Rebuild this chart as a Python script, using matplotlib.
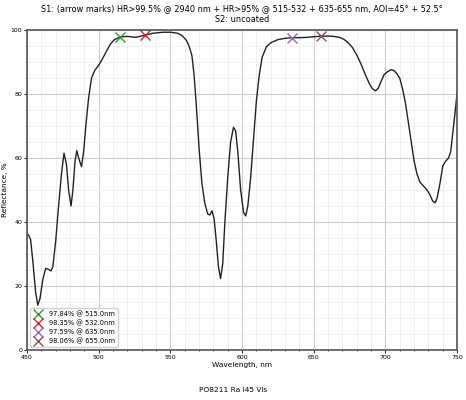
import matplotlib
matplotlib.use("Agg")
import matplotlib.pyplot as plt
from matplotlib.ticker import MultipleLocator

wavelength = [450, 451, 452.5, 454, 456, 457.5, 459, 461, 463, 465, 466.7, 468, 470, 472, 474, 475.8,
              477.5, 479, 480.7, 482, 483.5, 484.7, 486, 488, 489.5, 491, 493, 495, 497.4, 500, 502,
              505, 508, 511, 515, 520, 526, 532, 538, 545, 550, 555, 558, 561, 563, 565, 566.5, 568,
              570, 572, 574, 576, 577.5, 579, 580.5, 582, 583.5, 585, 586.5, 588, 590, 592, 594, 595.5,
              597, 599, 601, 602.5, 604, 606, 608, 610, 612, 614, 617, 620, 625, 630, 635, 640, 645,
              650, 655, 660, 664, 668, 671, 674, 677, 680, 683, 686, 689, 691, 693, 695, 697, 699,
              701.5, 704, 706, 708, 710, 712, 714, 716, 718, 720, 722, 724, 726, 729, 731, 733, 734.7,
              736, 738, 740, 742, 744, 745.5, 747, 748.5, 750]
reflectance = [35.9, 36.0, 34.5, 28, 18, 14, 16, 22, 25.5, 25.2, 24.7, 26, 34, 45, 55, 61.5,
               58, 50, 45, 50, 59, 62.3, 60, 57.3, 62, 70, 79, 85, 87.5, 89, 90.5,
               93, 95.5, 97, 97.84, 98, 97.7, 98.35, 99.0, 99.3, 99.3, 99.0, 98.3, 96.9, 95, 92, 86, 77,
               63, 52, 45.9, 42.5, 42.2, 43.5, 41, 34, 26, 22.3, 27, 40, 54, 65, 69.6, 68.5,
               62, 50, 43, 41.9, 45, 54, 66, 78, 86, 91.5, 94.8, 96, 97, 97.4, 97.59, 97.6, 97.7,
               97.9, 98.06, 98.1, 98.0, 97.7, 97.1, 96, 94.5, 92.2, 89.3, 86, 83, 81.6, 81, 81.8, 84, 86,
               87, 87.6, 87.3, 86.3, 84.9, 81.5, 77, 71, 65, 59, 55, 52.5, 51.5, 50, 48.5, 46.5, 46,
               47.5, 52, 57.5, 59, 60, 62, 68, 74, 80.5]

mark_wl = [515.0, 532.0, 635.0, 655.0]
mark_r = [97.84, 98.35, 97.59, 98.06]
mark_colors = ["#2ca02c", "#d62728", "#9467bd", "#8c564b"]

fig = plt.figure(figsize=(4.66, 4.0), dpi=100)
ax = fig.add_axes([0.058, 0.125, 0.923, 0.8])
ax.plot(wavelength, reflectance, color="#222222", lw=1.0)
for w, r, c in zip(mark_wl, mark_r, mark_colors):
    ax.plot([w], [r], marker="x", ms=6.5, mew=1.0, color=c, ls="none",
            label=f"{r:.2f}% @ {w:.1f}nm")

ax.set_xlim(450, 750)
ax.set_ylim(0, 100)
ax.xaxis.set_major_locator(MultipleLocator(50))
ax.xaxis.set_minor_locator(MultipleLocator(10))
ax.yaxis.set_major_locator(MultipleLocator(20))
ax.yaxis.set_minor_locator(MultipleLocator(5))
ax.grid(which="major", color="#cccccc", lw=0.8)
ax.grid(which="minor", color="#eeeeee", lw=0.6)
ax.set_axisbelow(True)
ax.tick_params(labelsize=4.5, length=2, width=0.6, pad=1.5)
ax.tick_params(which="minor", length=1)
for s in ax.spines.values():
    s.set_color("#555555")
    s.set_linewidth(1.2)
ax.set_xlabel("Wavelength, nm", fontsize=5.3, labelpad=1.5)
ax.set_ylabel("Reflectance, %", fontsize=5.3, labelpad=2)
ax.set_title("S1: (arrow marks) HR>99.5% @ 2940 nm + HR>95% @ 515-532 + 635-655 nm, AOI=45° + 52.5°\nS2: uncoated",
             fontsize=5.9, pad=6)
ax.legend(loc="lower left", fontsize=4.8, handletextpad=0.8, borderpad=0.4,
          labelspacing=0.35, handlelength=1.6, framealpha=0.9)
fig.text(0.5, 0.018, "PO8211 Ra i45 Vis", ha="center", va="bottom", fontsize=5.3)
fig.savefig("out.png", dpi=100)
